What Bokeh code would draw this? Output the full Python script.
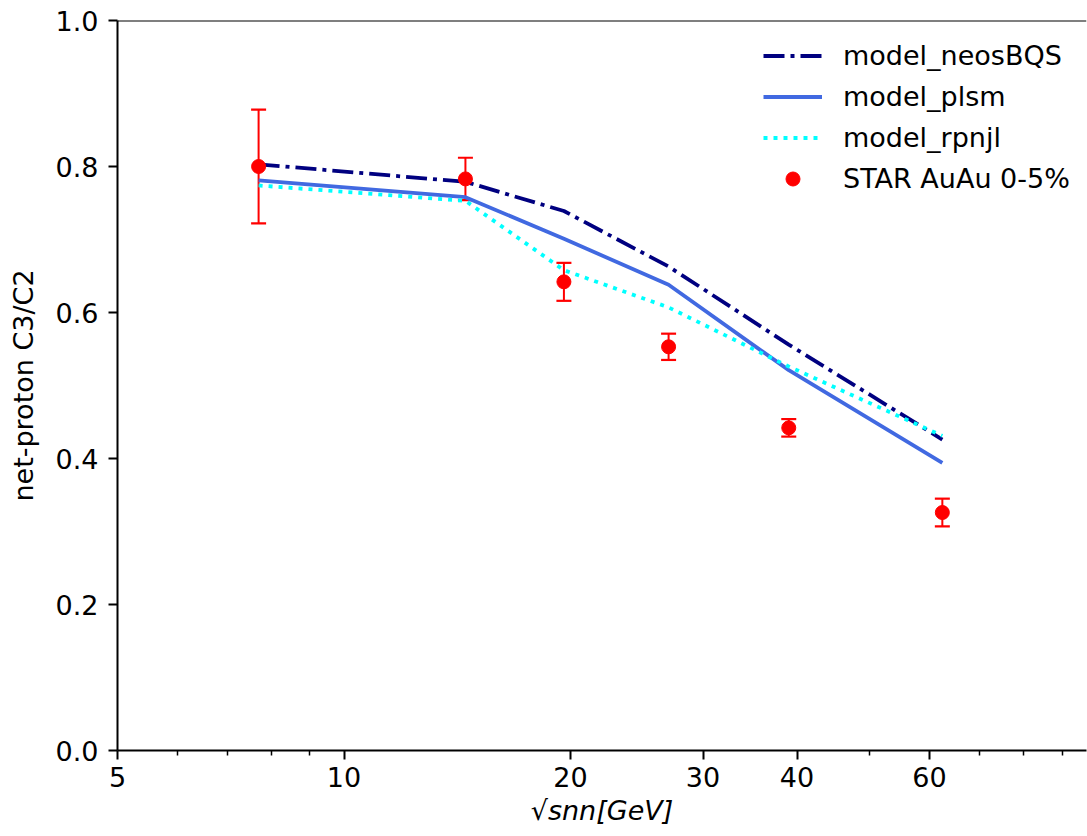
from bokeh.plotting import figure
from bokeh.models import (Range1d, FixedTicker, Legend, LegendItem, Span,
                          NumeralTickFormatter, ColumnDataSource, Whisker, TeeHead)
from bokeh.embed import file_html
from bokeh.resources import INLINE

# ---- data ----
energy = [7.7, 14.5, 19.6, 27.0, 39.0, 62.4]
star_c3c2 = [0.800, 0.783, 0.642, 0.553, 0.442, 0.326]
star_err = [0.078, 0.029, 0.026, 0.018, 0.012, 0.019]
model_neosBQS = [0.803, 0.779, 0.739, 0.663, 0.556, 0.426]
model_plsm = [0.781, 0.758, 0.701, 0.638, 0.521, 0.394]
model_rpnjl = [0.774, 0.753, 0.658, 0.607, 0.526, 0.431]

x_major_ticks = [5, 10, 20, 30, 40, 60]
x_minor_ticks = [6, 7, 8, 9, 50, 70, 80, 90]
y_ticks = [0.0, 0.2, 0.4, 0.6, 0.8, 1.0]

FONT = "DejaVu Sans"
FS = "27px"

p = figure(width=1087, height=836, x_axis_type="log",
           x_range=Range1d(5, 97), y_range=Range1d(0, 1.0),
           output_backend="svg", toolbar_location=None,
           min_border_left=117, min_border_right=1,
           min_border_top=20, min_border_bottom=86)
p.grid.visible = False
p.outline_line_color = None
p.background_fill_color = "white"
p.border_fill_color = "white"

# top spine
p.add_layout(Span(location=1.0, dimension="width", line_color="black", line_width=2))

src = ColumnDataSource(dict(
    x=energy, y=star_c3c2,
    lo=[v - e for v, e in zip(star_c3c2, star_err)],
    hi=[v + e for v, e in zip(star_c3c2, star_err)],
    neos=model_neosBQS, plsm=model_plsm, rpnjl=model_rpnjl))

r_neos = p.line("x", "neos", source=src, line_color="#000080", line_width=3.8,
                line_dash="21 6 4 6")
r_plsm = p.line("x", "plsm", source=src, line_color="#4169E1", line_width=3.8)
r_rpnjl = p.line("x", "rpnjl", source=src, line_color="#00FFFF", line_width=3.8,
                 line_dash="4 6")

wh = Whisker(base="x", lower="lo", upper="hi", source=src, dimension="height",
             line_color="red", line_width=2,
             lower_head=TeeHead(size=15, line_color="red", line_width=2.2),
             upper_head=TeeHead(size=15, line_color="red", line_width=2.2))
p.add_layout(wh)
r_star = p.scatter("x", "y", source=src, size=14, color="red", marker="circle")

# axes
xa = p.xaxis[0]
xa.ticker = FixedTicker(ticks=x_major_ticks, minor_ticks=x_minor_ticks)
xa.major_label_overrides = {t: str(t) for t in x_major_ticks}
xa.axis_label = "√snn[GeV]"
xa.axis_label_text_font_style = "italic"

ya = p.yaxis[0]
ya.ticker = FixedTicker(ticks=y_ticks, minor_ticks=[])
ya.formatter = NumeralTickFormatter(format="0.0")
ya.axis_label = "net-proton C3/C2"
ya.axis_label_text_font_style = "normal"

for ax in (xa, ya):
    ax.axis_line_width = 2
    ax.axis_line_color = "black"
    ax.major_tick_line_width = 2
    ax.minor_tick_line_width = 1.5
    ax.major_tick_out = 9
    ax.major_tick_in = 0
    ax.minor_tick_out = 5
    ax.minor_tick_in = 0
    ax.major_label_text_font = FONT
    ax.major_label_text_font_size = FS
    ax.major_label_text_color = "black"
    ax.axis_label_text_font = FONT
    ax.axis_label_text_font_size = FS
    ax.axis_label_text_color = "black"
xa.major_label_standoff = 7
xa.axis_label_standoff = 5
ya.major_label_standoff = 10
ya.axis_label_standoff = 14

legend = Legend(items=[
    LegendItem(label="model_neosBQS", renderers=[r_neos]),
    LegendItem(label="model_plsm", renderers=[r_plsm]),
    LegendItem(label="model_rpnjl", renderers=[r_rpnjl]),
    LegendItem(label="STAR AuAu 0-5%", renderers=[r_star]),
], location=(646, 554))
legend.label_text_font = FONT
legend.label_text_font_size = FS
legend.label_text_color = "black"
legend.glyph_width = 59
legend.glyph_height = 35
legend.label_standoff = 21
legend.spacing = 6
legend.padding = 0
legend.margin = 0
legend.border_line_alpha = 0
legend.background_fill_alpha = 0
p.add_layout(legend)

open("out.html", "w").write(file_html(p, INLINE))
